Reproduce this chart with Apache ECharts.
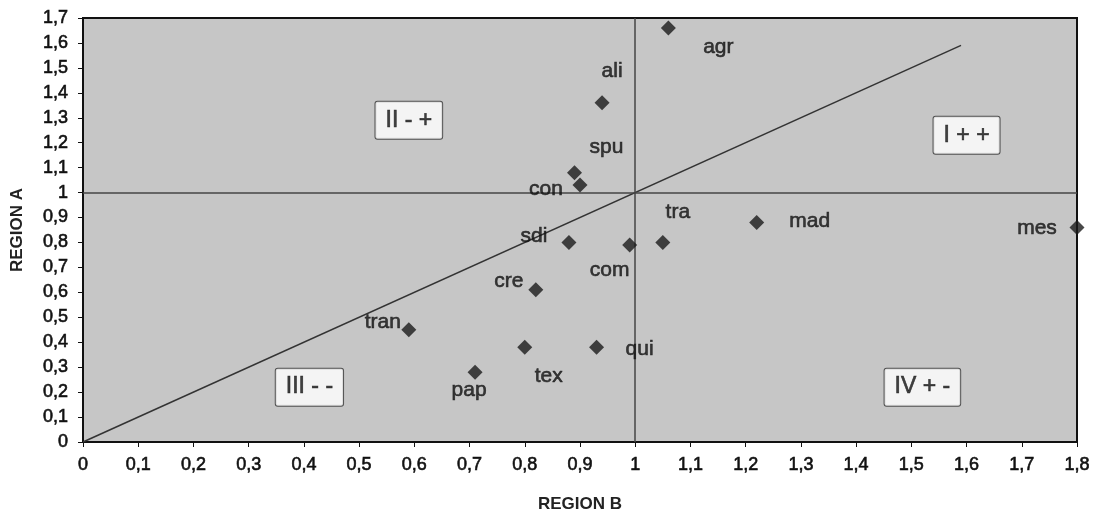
<!DOCTYPE html>
<html><head><meta charset="utf-8">
<script src="https://cdn.jsdelivr.net/npm/echarts@6/dist/echarts.min.js"></script>
<style>html,body{margin:0;padding:0;background:#fff;}#c{width:1097px;height:519px;}</style>
</head><body><div id="c"></div>
<script>
// Data
var names = ['agr','ali','spu','con','sdi','com','tra','mad','mes','cre','tran','tex','qui','pap'];
var regionB = [1.06, 0.94, 0.89, 0.90, 0.88, 0.99, 1.05, 1.22, 1.80, 0.82, 0.59, 0.80, 0.93, 0.71];
var regionA = [1.66, 1.36, 1.08, 1.03, 0.80, 0.79, 0.80, 0.88, 0.86, 0.61, 0.45, 0.38, 0.38, 0.28];
var quadrantLabels = ['II - +', 'I + +', 'III - -', 'IV + -'];
var quadrantX = [0.59, 1.60, 0.41, 1.52];
var quadrantY = [1.29, 1.23, 0.22, 0.22];
var diagonalX = [0, 1.59];
var diagonalY = [0, 1.59];
var refB = 1, refA = 1;

// Label placement (style only)
var labelOffsets = {
  agr:[50,19], ali:[10,-32], spu:[32,-25], con:[-34,4], sdi:[-35,-6], com:[-20,25],
  tra:[15,-30], mad:[53,-1], mes:[-40,1], cre:[-27,-9], tran:[-26,-8], tex:[24,29],
  qui:[43,2], pap:[-6,18]
};

var font = 'Liberation Sans, Arial, sans-serif';
function comma(v){ return String(Math.round(v*10)/10).replace('.', ','); }

var pts = names.map(function(n,i){
  return { name:n, value:[regionB[i], regionA[i]],
    label:{ show:true, position:'inside', offset:labelOffsets[n], formatter:n } };
});
var quads = quadrantLabels.map(function(t,i){ return { name:t, value:[quadrantX[i], quadrantY[i]] }; });
var diag = diagonalX.map(function(x,i){ return [x, diagonalY[i]]; });

var txt = { fontFamily:font, color:'#111', textBorderColor:'#111', textBorderWidth:0.6 };

var chart = echarts.init(document.getElementById('c'), null, {renderer:'canvas'});
chart.setOption({
  animation:false,
  grid:{ left:83, top:18, width:994, height:424, show:true, backgroundColor:'#c6c6c6',
         borderColor:'#111', borderWidth:2 },
  xAxis:{ type:'value', min:0, max:1.8, interval:0.1,
    name:'REGION B', nameLocation:'middle', nameGap:54,
    nameTextStyle:{ fontFamily:font, fontWeight:'bold', fontSize:17, color:'#222' },
    axisLine:{ show:true, lineStyle:{ color:'#111', width:2 } },
    axisTick:{ show:true, length:5, lineStyle:{ color:'#111' } },
    axisLabel:Object.assign({ formatter:comma, fontSize:18, margin:14 }, txt),
    splitLine:{ show:false } },
  yAxis:{ type:'value', min:0, max:1.7, interval:0.1,
    name:'REGION A', nameLocation:'middle', nameGap:57,
    nameTextStyle:{ fontFamily:font, fontWeight:'bold', fontSize:17, color:'#222' },
    axisLine:{ show:true, lineStyle:{ color:'#111', width:2 } },
    axisTick:{ show:true, length:5, lineStyle:{ color:'#111' } },
    axisLabel:Object.assign({ formatter:comma, fontSize:18, margin:15 }, txt),
    splitLine:{ show:false } },
  series:[
    { type:'line', data:diag, symbol:'none', silent:true,
      lineStyle:{ color:'#333', width:1.5 }, z:2,
      markLine:{ silent:true, symbol:'none', label:{show:false},
        lineStyle:{ color:'#444', width:1.5, type:'solid' },
        data:[ { xAxis:refB }, { yAxis:refA } ] } },
    { type:'scatter', data:pts, symbol:'diamond', symbolSize:15,
      itemStyle:{ color:'#1a1a1a' }, z:5,
      label:Object.assign({ fontSize:21 }, txt) },
    { type:'scatter', data:quads, symbolSize:0, z:6, silent:true,
      label:Object.assign({ show:true, position:'inside', formatter:'{b}', fontSize:23,
        backgroundColor:'#fff', borderColor:'#333', borderWidth:1,
        borderRadius:2, padding:[7,10] }, txt) }
  ]
});
</script></body></html>
